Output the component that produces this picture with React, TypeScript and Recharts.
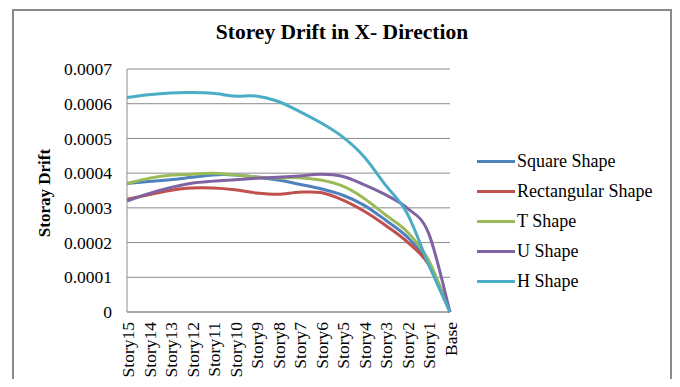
import React from 'react'
import { LineChart, Line, XAxis, YAxis, CartesianGrid } from 'recharts'

const categories = [
  'Story15', 'Story14', 'Story13', 'Story12', 'Story11', 'Story10', 'Story9', 'Story8',
  'Story7', 'Story6', 'Story5', 'Story4', 'Story3', 'Story2', 'Story1', 'Base',
]

const squareShape = [0.000370, 0.000376, 0.000381, 0.000388, 0.000395, 0.000395, 0.000389, 0.000380, 0.000368, 0.000355, 0.000337, 0.000308, 0.000265, 0.000217, 0.000142, 0]
const rectangularShape = [0.000324, 0.000338, 0.000350, 0.000357, 0.000357, 0.000352, 0.000343, 0.000339, 0.000345, 0.000344, 0.000323, 0.000291, 0.000250, 0.000203, 0.000137, 0]
const tShape = [0.000370, 0.000385, 0.000394, 0.000397, 0.000400, 0.000395, 0.000389, 0.000386, 0.000387, 0.000380, 0.000363, 0.000328, 0.000280, 0.000232, 0.000150, 0]
const uShape = [0.000320, 0.000341, 0.000358, 0.000371, 0.000377, 0.000381, 0.000385, 0.000388, 0.000392, 0.000397, 0.000391, 0.000367, 0.000338, 0.000300, 0.000228, 0]
const hShape = [0.000618, 0.000626, 0.000631, 0.000632, 0.000630, 0.000622, 0.000622, 0.000607, 0.000578, 0.000545, 0.000505, 0.000448, 0.000366, 0.000285, 0.000138, 0]

const yTicks = [0, 0.0001, 0.0002, 0.0003, 0.0004, 0.0005, 0.0006, 0.0007]

const SERIES = [
  { key: 'square', name: 'Square Shape', color: '#4F81BD', values: squareShape },
  { key: 'rect', name: 'Rectangular Shape', color: '#C0504D', values: rectangularShape },
  { key: 't', name: 'T Shape', color: '#9BBB59', values: tShape },
  { key: 'u', name: 'U Shape', color: '#8064A2', values: uShape },
  { key: 'h', name: 'H Shape', color: '#4BACC6', values: hShape },
]

const data = categories.map((story, i) => {
  const row: Record<string, string | number> = { story }
  SERIES.forEach(s => { row[s.key] = s.values[i] })
  return row
})

const FONT = '"Liberation Serif", "Times New Roman", serif'
const GRID = '#8c8c8c'
const tickText = { fontFamily: FONT, fontSize: 17.5 }

// Excel-style smoothed line (Catmull-Rom through every point)
const smoothCurve = (context: any) => {
  let pts: number[][] = []
  return {
    areaStart() {},
    areaEnd() {},
    lineStart() { pts = [] },
    point(x: number, y: number) { pts.push([+x, +y]) },
    lineEnd() {
      if (!pts.length) return
      context.moveTo(pts[0][0], pts[0][1])
      for (let i = 0; i < pts.length - 1; i++) {
        const p0 = pts[i - 1] ?? pts[i]
        const p1 = pts[i]
        const p2 = pts[i + 1]
        const p3 = pts[i + 2] ?? p2
        context.bezierCurveTo(
          p1[0] + (p2[0] - p0[0]) / 6, p1[1] + (p2[1] - p0[1]) / 6,
          p2[0] - (p3[0] - p1[0]) / 6, p2[1] - (p3[1] - p1[1]) / 6,
          p2[0], p2[1],
        )
      }
    },
  }
}

const StoryTick = (props: any) => {
  const { x, y, payload } = props
  return (
    <g transform={`translate(${x},${y})`}>
      <text transform="rotate(-90)" x={-2} y={7} textAnchor="end" fill="#000" style={tickText}>
        {payload.value}
      </text>
    </g>
  )
}

const DriftTick = (props: any) => {
  const { x, y, payload } = props
  const v = payload.value as number
  return (
    <text x={x} y={y} dy="0.355em" textAnchor="end" fill="#000" style={tickText}>
      {v === 0 ? '0' : v.toFixed(4)}
    </text>
  )
}

export default function App() {
  return (
    <div style={{
      position: 'relative', width: 680, height: 387, margin: -8, overflow: 'hidden',
      background: '#fff', fontFamily: FONT,
    }}>
      <div style={{
        position: 'absolute', left: 12, top: 9, width: 660, height: 400,
        border: '2px solid #8a8a8a', boxSizing: 'border-box',
      }} />
      <div style={{
        position: 'absolute', left: 0, width: 684, top: 22, textAlign: 'center',
        fontSize: 21.5, fontWeight: 'bold', lineHeight: 1, color: '#000',
      }}>
        Storey Drift in X- Direction
      </div>
      <div style={{
        position: 'absolute', left: 45, top: 193, transform: 'translate(-50%,-50%) rotate(-90deg)',
        fontSize: 17, fontWeight: 'bold', whiteSpace: 'nowrap', color: '#000',
      }}>
        Storay Drift
      </div>
      <div style={{ position: 'absolute', left: 0, top: 0 }}>
        <LineChart width={680} height={387} data={data}
          margin={{ top: 69, right: 230, bottom: 0, left: 67 }}>
          <CartesianGrid vertical={false} stroke={GRID} strokeWidth={1} />
          <XAxis dataKey="story" height={75} interval={0} tickLine={false}
            axisLine={{ stroke: GRID }} tick={<StoryTick />} />
          <YAxis width={60} domain={[0, 0.0007]} ticks={yTicks} interval={0} tickLine={false}
            axisLine={{ stroke: GRID }} tickMargin={9} tick={<DriftTick />} />
          {SERIES.map(s => (
            <Line key={s.key} type={smoothCurve as any} dataKey={s.key} name={s.name} stroke={s.color}
              strokeWidth={3} dot={false} isAnimationActive={false} />
          ))}
        </LineChart>
      </div>
      <div style={{ position: 'absolute', left: 477, top: 146 }}>
        {SERIES.map(s => (
          <div key={s.key} style={{ display: 'flex', alignItems: 'center', height: 30 }}>
            <span style={{ display: 'inline-block', width: 38, height: 3, background: s.color, marginRight: 2 }} />
            <span style={{ fontSize: 18, color: '#000', whiteSpace: 'nowrap' }}>{s.name}</span>
          </div>
        ))}
      </div>
    </div>
  )
}
